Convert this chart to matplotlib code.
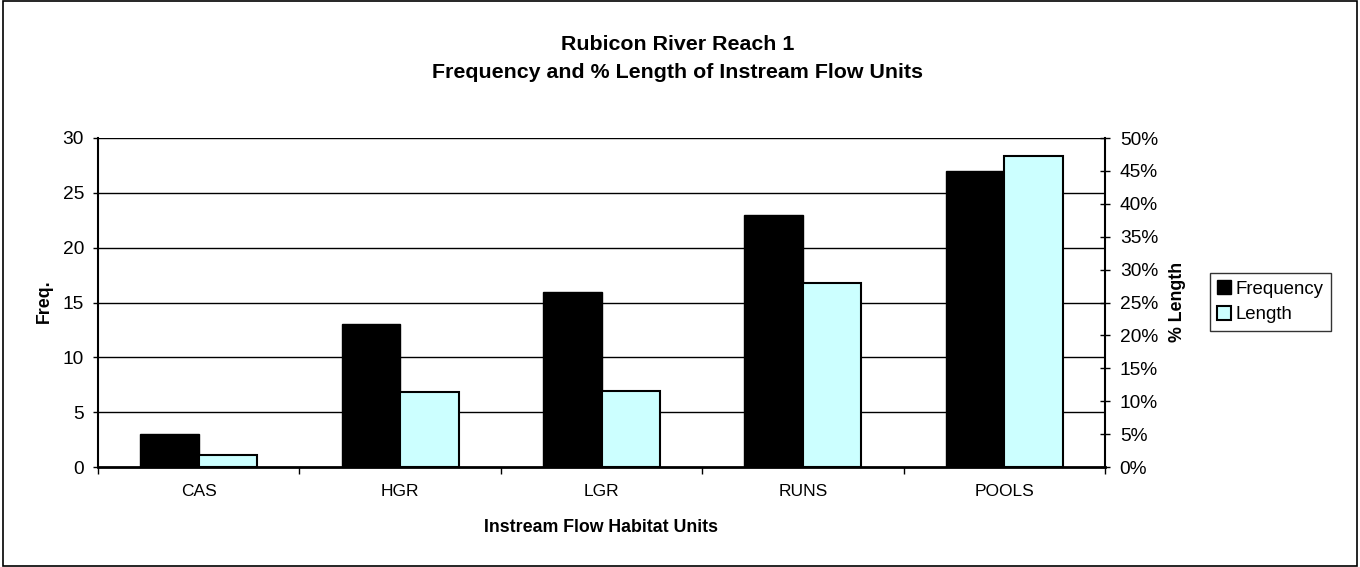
"""
Rubicon River Reach 1 - frequency and % length of instream flow units.
"""
import numpy as np
import matplotlib
matplotlib.use("Agg")
import matplotlib.pyplot as plt
from matplotlib.ticker import FuncFormatter
from matplotlib.patches import Rectangle

plt.rcParams["font.family"] = ["Liberation Sans", "DejaVu Sans"]

CATEGORIES = ["CAS", "HGR", "LGR", "RUNS", "POOLS"]
FREQUENCY = [3, 13, 16, 23, 27]
LENGTH_PCT = [1.8, 11.4, 11.5, 28.0, 47.3]

BLACK = "#000000"
CYAN = "#ccffff"
W, H = 1360, 567

fig = plt.figure(figsize=(W / 100, H / 100), dpi=100)
ax = fig.add_axes([98 / W, 1 - 467 / H, 1007 / W, 329 / H])
ax2 = ax.twinx()

x = np.arange(len(CATEGORIES))
w = 0.29
ax.bar(x - w / 2, FREQUENCY, width=w, color=BLACK, edgecolor=BLACK,
       linewidth=1, label="Frequency", zorder=3)
ax2.bar(x + w / 2, LENGTH_PCT, width=w, color=CYAN, edgecolor=BLACK,
        linewidth=1.5, label="Length", zorder=3)

ax.set_xlim(-0.5, len(CATEGORIES) - 0.5)
ax.set_ylim(0, 30)
ax.set_yticks(np.arange(0, 31, 5))
ax2.set_ylim(0, 50)
ax2.set_yticks(np.arange(0, 51, 5))
ax2.yaxis.set_major_formatter(FuncFormatter(lambda v, _: f"{v:.0f}%"))

# gridlines from the left axis
for v in np.arange(5, 31, 5):
    ax.axhline(v, color="black", linewidth=1, zorder=1)

ax.set_xticks(x)
ax.set_xticklabels(CATEGORIES, fontsize=12.5)
ax.set_xticks(np.arange(-0.5, len(CATEGORIES)), minor=True)
ax.tick_params(axis="x", which="major", length=0, pad=12)
ax.tick_params(axis="x", which="minor", length=5, width=1, direction="out")
ax.tick_params(axis="y", labelsize=13.8, length=3.6, width=1, direction="out", pad=6.5)
ax2.tick_params(axis="y", labelsize=13.8, length=7.2, width=1, direction="inout", pad=7)

for a in (ax, ax2):
    a.spines["top"].set_visible(False)
ax.spines["right"].set_visible(False)
ax2.spines["left"].set_visible(False)
ax2.spines["bottom"].set_visible(False)
ax.spines["left"].set_linewidth(1.5)
ax.spines["bottom"].set_linewidth(2)
ax2.spines["right"].set_linewidth(1.5)

fig.text(601 / W, 1 - 527 / H, "Instream Flow Habitat Units", ha="center",
         va="center", fontsize=12.8, fontweight="bold")
fig.text(44 / W, 1 - 301 / H, "Freq.", ha="center", va="center", rotation=90,
         fontsize=12.8, fontweight="bold")
fig.text(1177 / W, 1 - 302 / H, "% Length", ha="center", va="center", rotation=90,
         fontsize=12.8, fontweight="bold")

fig.text(678 / W, 1 - 45 / H, "Rubicon River Reach 1", ha="center", va="center",
         fontsize=15.4, fontweight="bold")
fig.text(678 / W, 1 - 73 / H, "Frequency and % Length of Instream Flow Units",
         ha="center", va="center", fontsize=15.4, fontweight="bold")

h1, l1 = ax.get_legend_handles_labels()
h2, l2 = ax2.get_legend_handles_labels()
leg = fig.legend(h1 + h2, l1 + l2, loc="upper left",
                 bbox_to_anchor=(1210 / W, 1 - 273 / H), fontsize=13.4,
                 frameon=True, fancybox=False, edgecolor="black",
                 handlelength=0.75, handleheight=0.75, handletextpad=0.2,
                 borderpad=0.4, labelspacing=0.45, borderaxespad=0)
leg.get_frame().set_linewidth(1)

fig.patches.append(Rectangle((0.002, 0.002), 0.996, 0.996, transform=fig.transFigure,
                             fill=False, edgecolor="black", linewidth=1.2))

fig.savefig("out.png", dpi=100)
